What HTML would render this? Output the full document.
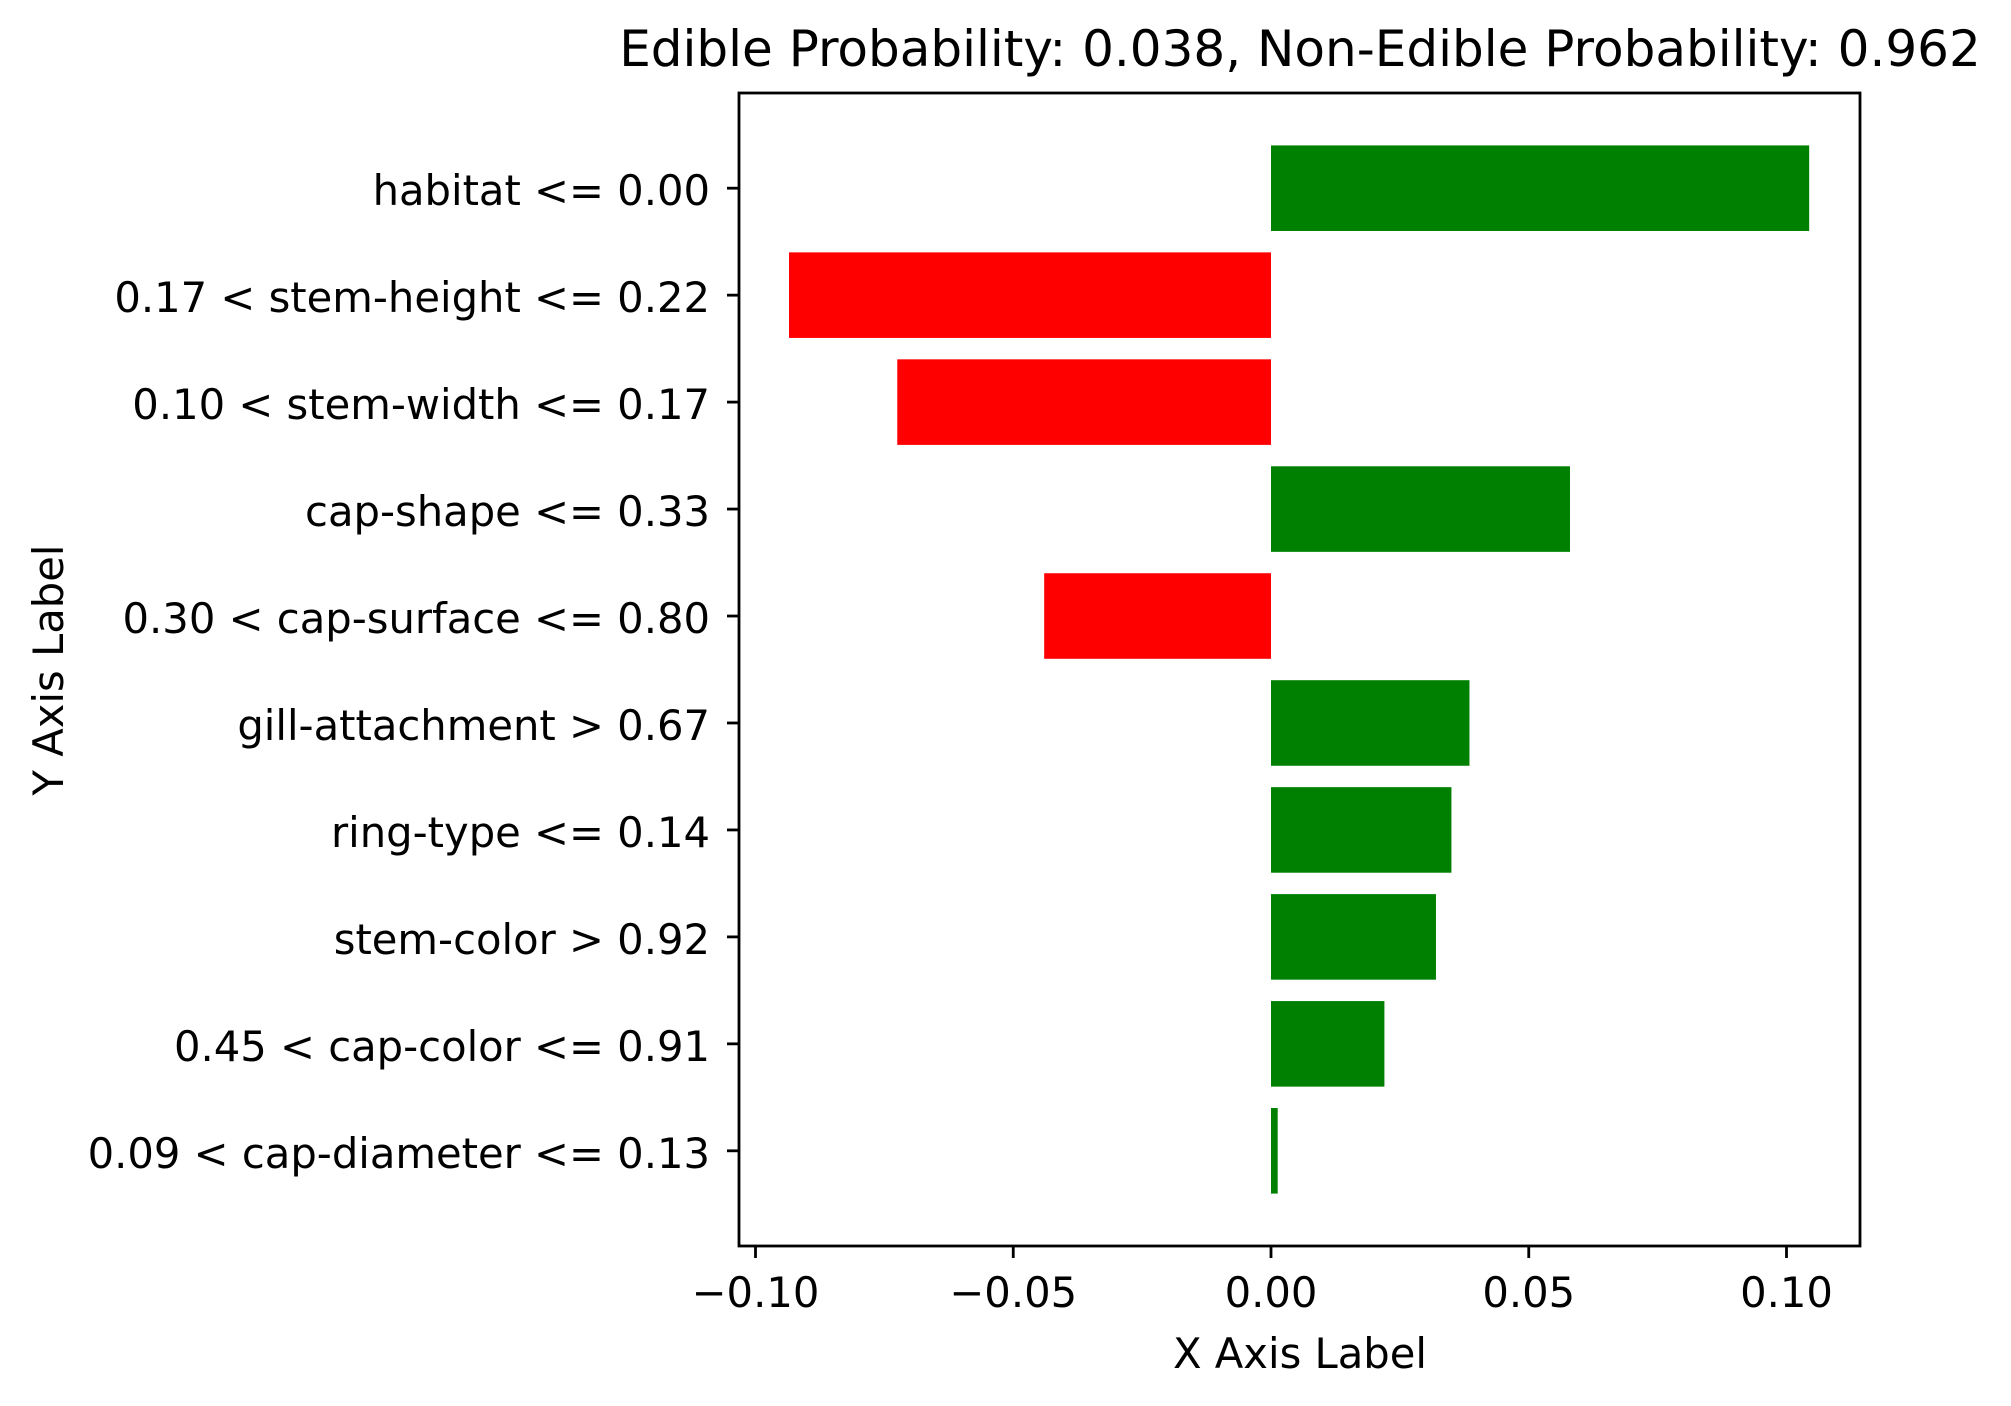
<!DOCTYPE html>
<html><head><meta charset="utf-8"><style>body{margin:0;background:#fff}svg{display:block}text{font-family:"DejaVu Sans","Liberation Sans",sans-serif;fill:#000}</style></head>
<body>
<svg id="chart" width="2011" height="1406" viewBox="0 0 2011 1406" xmlns="http://www.w3.org/2000/svg">
<text x="1300" y="66" font-size="50" text-anchor="middle">Edible Probability: 0.038, Non-Edible Probability: 0.962</text>
<g id="bars"></g>
<rect x="739" y="93" width="1121" height="1153" fill="none" stroke="#000" stroke-width="2.8"/>
<g id="axes"></g>
<text x="1300" y="1368" font-size="41.7" text-anchor="middle">X Axis Label</text>
<text transform="translate(63,670) rotate(-90)" font-size="41.7" text-anchor="middle">Y Axis Label</text>
</svg>
<script>
const categories = ["habitat <= 0.00","0.17 < stem-height <= 0.22","0.10 < stem-width <= 0.17","cap-shape <= 0.33","0.30 < cap-surface <= 0.80","gill-attachment > 0.67","ring-type <= 0.14","stem-color > 0.92","0.45 < cap-color <= 0.91","0.09 < cap-diameter <= 0.13"];
const values = [0.1044,-0.0935,-0.0725,0.058,-0.044,0.0385,0.035,0.032,0.022,0.0013];
const xTicks = [-0.10,-0.05,0.00,0.05,0.10];
const xTickLabels = ["\u22120.10","\u22120.05","0.00","0.05","0.10"];

const NS="http://www.w3.org/2000/svg";
const L=739,R=1860,T=93,B=1246;
const n=categories.length;
const yMin=-0.4-0.05*(n-0.2), yMax=n-1+0.4+0.05*(n-0.2);
function xs(v){return 1271+v*5155;}
function ys(i){const pos=n-1-i;return T+(yMax-pos)/(yMax-yMin)*(B-T);}
const unit=(B-T)/(yMax-yMin);
const bars=document.getElementById('bars'), axes=document.getElementById('axes');
function mk(tag,attrs,parent){const e=document.createElementNS(NS,tag);for(const k in attrs)e.setAttribute(k,attrs[k]);parent.appendChild(e);return e;}
categories.forEach((c,i)=>{
  const v=values[i], x1=xs(Math.min(0,v)), x2=xs(Math.max(0,v));
  const r=mk('rect',{x:x1,y:ys(i)-0.4*unit,width:x2-x1,height:0.8*unit,fill:v>=0?'#008000':'#ff0000'},bars);
  
  
  const t=mk('line',{x1:L-12,x2:L,y1:ys(i),y2:ys(i),stroke:'#000','stroke-width':2.8},axes);
  
  
  const lb=mk('text',{x:L-29,y:ys(i)+17,'font-size':41.7,'text-anchor':'end'},axes);
  lb.textContent=c;
  
  
});
xTicks.forEach((v,i)=>{
  const t=mk('line',{x1:xs(v),x2:xs(v),y1:B,y2:B+12,stroke:'#000','stroke-width':2.8},axes);
  
  
  const lb=mk('text',{x:xs(v),y:1307,'font-size':41.7,'text-anchor':'middle'},axes);
  lb.textContent=xTickLabels[i];
  
  
});
</script>
</body></html>
